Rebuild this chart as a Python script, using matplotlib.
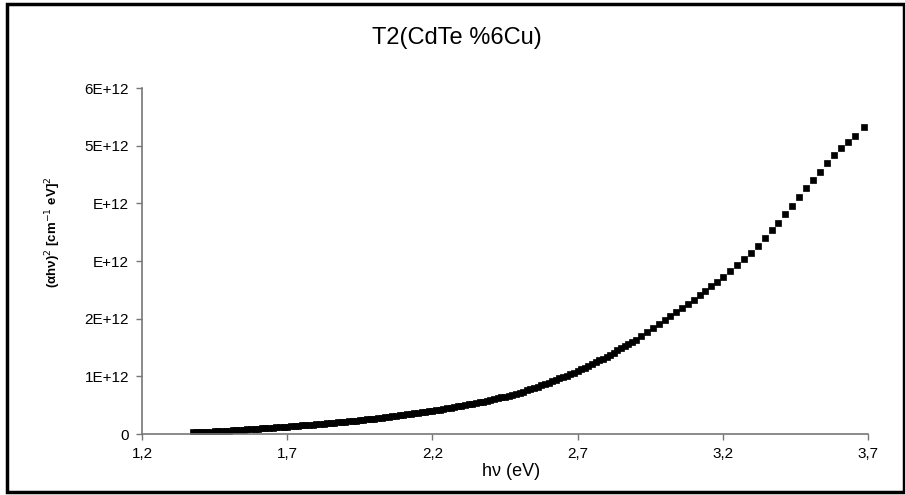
import matplotlib
matplotlib.use("Agg")
import matplotlib.pyplot as plt
from matplotlib.patches import Rectangle

# photon energy hv (eV); the spectrometer steps are finer at low energy
energy = [
    1.3750, 1.3875,
    1.4000, 1.4125, 1.4250, 1.4375, 1.4500, 1.4625, 1.4750, 1.4875,
    1.5000, 1.5125, 1.5250, 1.5375, 1.5500, 1.5625, 1.5750, 1.5875,
    1.6000, 1.6125, 1.6250, 1.6375, 1.6500, 1.6625, 1.6750, 1.6875,
    1.7000, 1.7125, 1.7250, 1.7375, 1.7500, 1.7625, 1.7750, 1.7875,
    1.8000, 1.8125, 1.8250, 1.8375, 1.8500, 1.8625, 1.8750, 1.8875,
    1.9000, 1.9125, 1.9250, 1.9375, 1.9500, 1.9625, 1.9750, 1.9875,
    2.0000, 2.0125, 2.0250, 2.0375, 2.0500, 2.0625, 2.0750, 2.0875,
    2.1000, 2.1125, 2.1250, 2.1375, 2.1500, 2.1625, 2.1750, 2.1875,
    2.2000, 2.2125, 2.2250, 2.2375, 2.2500, 2.2625, 2.2750, 2.2875,
    2.3000, 2.3125, 2.3250, 2.3375, 2.3500, 2.3625, 2.3750, 2.3875,
    2.4000, 2.4125, 2.4250, 2.4375, 2.4500, 2.4625, 2.4750, 2.4875,
    2.5000, 2.5125, 2.5250, 2.5375, 2.5500, 2.5625, 2.5750, 2.5875,
    2.6000, 2.6125, 2.6250, 2.6375, 2.6500, 2.6625, 2.6750, 2.6875,
    2.7000, 2.7125, 2.7250, 2.7375, 2.7500, 2.7625, 2.7750, 2.7875,
    2.8000, 2.8125, 2.8250, 2.8375, 2.8500, 2.8625, 2.8750, 2.8875,
    2.9000, 2.920, 2.940, 2.960, 2.980,
    3.000, 3.020, 3.040, 3.060, 3.080,
    3.100, 3.120, 3.140, 3.160, 3.180,
    3.200, 3.224, 3.248, 3.272, 3.296,
    3.320, 3.344, 3.368, 3.392, 3.416,
    3.440, 3.464, 3.488, 3.512, 3.536,
    3.560, 3.584, 3.608, 3.632, 3.656, 3.686,
]
# (alpha*hv)^2 in units of 1E+12 cm^-2 eV^2
ahv2 = [
    0.031, 0.033,
    0.035, 0.038, 0.041, 0.044, 0.047, 0.050, 0.053, 0.057,
    0.060, 0.064, 0.069, 0.073, 0.077, 0.082, 0.086, 0.091,
    0.095, 0.099, 0.104, 0.108, 0.112, 0.117, 0.121, 0.126,
    0.130, 0.135, 0.140, 0.145, 0.150, 0.155, 0.160, 0.165,
    0.170, 0.175, 0.181, 0.187, 0.192, 0.198, 0.204, 0.209,
    0.215, 0.222, 0.229, 0.236, 0.242, 0.249, 0.256, 0.263,
    0.270, 0.278, 0.286, 0.294, 0.302, 0.311, 0.319, 0.327,
    0.335, 0.344, 0.353, 0.361, 0.370, 0.379, 0.388, 0.396,
    0.405, 0.416, 0.426, 0.437, 0.447, 0.458, 0.469, 0.479,
    0.490, 0.502, 0.515, 0.527, 0.540, 0.552, 0.565, 0.577,
    0.590, 0.606, 0.621, 0.637, 0.652, 0.668, 0.684, 0.699,
    0.715, 0.737, 0.759, 0.780, 0.802, 0.824, 0.846, 0.868,
    0.890, 0.915, 0.940, 0.965, 0.990, 1.015, 1.040, 1.065,
    1.090, 1.121, 1.153, 1.184, 1.215, 1.246, 1.278, 1.309,
    1.340, 1.378, 1.415, 1.453, 1.490, 1.528, 1.565, 1.603,
    1.640, 1.708, 1.776, 1.844, 1.912,
    1.980, 2.050, 2.120, 2.190, 2.260,
    2.330, 2.408, 2.486, 2.564, 2.642,
    2.720, 2.823, 2.926, 3.030, 3.133,
    3.262, 3.397, 3.531, 3.665, 3.811,
    3.962, 4.113, 4.264, 4.411, 4.552,
    4.694, 4.836, 4.965, 5.069, 5.172, 5.320,
]

x_ticks = [1.2, 1.7, 2.2, 2.7, 3.2, 3.7]
x_labels = ["1,2", "1,7", "2,2", "2,7", "3,2", "3,7"]
y_ticks = [0, 1, 2, 3, 4, 5, 6]
y_labels = ["0", "1E+12", "2E+12", "E+12", "E+12", "5E+12", "6E+12"]

plt.rcParams["font.family"] = ["Liberation Sans", "DejaVu Sans"]

fig = plt.figure(figsize=(9.05, 4.95), dpi=100)
ax = fig.add_axes([0.157, 0.123, 0.802, 0.699])

ax.plot(energy, ahv2, linestyle="none", marker="s", markersize=3.7,
        color="black", markeredgewidth=0.5)

ax.set_xlim(1.2, 3.7)
ax.set_ylim(0, 6)
ax.set_xticks(x_ticks)
ax.set_xticklabels(x_labels)
ax.set_yticks(y_ticks)
ax.set_yticklabels(y_labels)
ax.tick_params(axis="both", labelsize=11, length=4.3, width=1, color="#777777", pad=5)

for side in ["top", "right"]:
    ax.spines[side].set_visible(False)
for side in ["left", "bottom"]:
    ax.spines[side].set_color("#777777")
    ax.spines[side].set_linewidth(1.2)

fig.text(0.505, 0.923, "T2(CdTe %6Cu)", ha="center", va="center", fontsize=17)
fig.text(0.565, 0.047, "h\u03bd (eV)", ha="center", va="center", fontsize=13)
fig.text(0.059, 0.53, "(\u03b1h\u03bd)$^2$ [cm$^{-1}$ eV]$^2$", ha="center", va="center",
         rotation=90, fontsize=9.5, fontweight="bold")

# outer chart border
fig.patches.append(Rectangle((0.0077, 0.006), 0.991, 0.986, transform=fig.transFigure,
                             fill=False, edgecolor="black", linewidth=2.5))

fig.savefig("out.png", dpi=100)
